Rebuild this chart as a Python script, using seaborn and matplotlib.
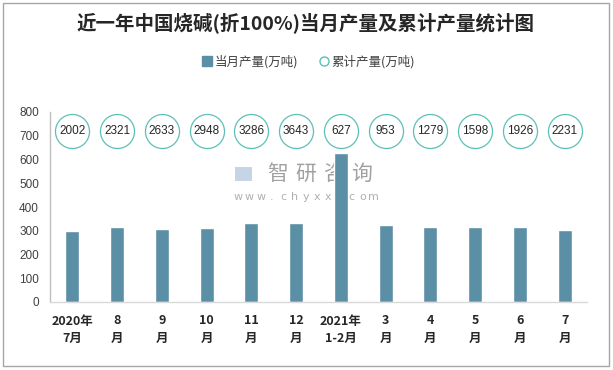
import matplotlib
matplotlib.use("Agg")
import matplotlib.pyplot as plt
import matplotlib.transforms as mtransforms
from matplotlib.patches import Rectangle
from matplotlib.lines import Line2D
import seaborn as sns
import pandas as pd

categories = ["2020年\n7月", "8\n月", "9\n月", "10\n月", "11\n月", "12\n月",
              "2021年\n1-2月", "3\n月", "4\n月", "5\n月", "6\n月", "7\n月"]
monthly = [299, 316, 308, 312, 333, 333, 627, 325, 316, 316, 316, 303]
cumulative = [2002, 2321, 2633, 2948, 3286, 3643, 627, 953, 1279, 1598, 1926, 2231]
yticks = [0, 100, 200, 300, 400, 500, 600, 700, 800]

title = "近一年中国烧碱(折100%)当月产量及累计产量统计图"
label_monthly = "当月产量(万吨)"
label_cum = "累计产量(万吨)"

sns.set_style("white")
plt.rcParams['font.family'] = ['Noto Sans CJK SC', 'DejaVu Sans']

bar_color = "#5b8fa6"
circ_color = "#5cc0b8"

fig = plt.figure(figsize=(6.13, 3.70), dpi=100)
ax = fig.add_axes([50/613, 1-302/370, (587-50)/613, (302-112)/370])

df = pd.DataFrame({"cat": categories, "val": monthly})
sns.barplot(data=df, x="cat", y="val", color=bar_color, width=0.31,
            saturation=1, ax=ax, order=categories, zorder=2)

ax.set_xlim(-0.5, len(categories)-0.5)
ax.set_ylim(0, 800)
ax.set_yticks(yticks)
ax.set_yticklabels([str(v) for v in yticks], fontsize=8.5, color="#404040",
                   family=["Liberation Sans"])
ax.set_xlabel("")
ax.set_ylabel("")
ax.set_xticks(range(len(categories)))
ax.set_xticklabels(categories, fontsize=9, fontweight="bold", color="#262626",
                   linespacing=1.45)
ax.tick_params(axis="x", which="major", length=0, pad=9)
ax.tick_params(axis="y", length=0, pad=8)
ax.set_xticks([i + 0.5 for i in range(-1, len(categories))], minor=True)
ax.tick_params(axis="x", which="minor", length=5, color="#d9d9d9", width=1)

for s in ["top", "right"]:
    ax.spines[s].set_visible(False)
ax.spines["bottom"].set_color("#d9d9d9")
ax.spines["left"].set_color("#bfbfbf")
ax.spines["left"].set_linewidth(1)
ax.spines["bottom"].set_linewidth(1)

# cumulative circles
trans = mtransforms.blended_transform_factory(ax.transData, ax.transAxes)
cy = (302 - 130.7) / 190
xs = list(range(len(categories)))
ax.scatter(xs, [cy]*len(xs), transform=trans, s=24.5**2, facecolor="white",
           edgecolor=circ_color, linewidth=0.9, zorder=5, clip_on=False)
for x, v in zip(xs, cumulative):
    ax.text(x, cy, str(v), transform=trans, ha="center", va="center",
            fontsize=8.5, color="#262626", zorder=6, family=["Liberation Sans"])

# title
fig.text(306/613, 1-23/370, title, ha="center", va="center", fontsize=14,
         fontweight="bold", color="#262626")

# legend
handles = [Line2D([], [], marker="s", linestyle="none", markersize=7,
                  markerfacecolor=bar_color, markeredgecolor=bar_color),
           Line2D([], [], marker="o", linestyle="none", markersize=6.5,
                  markerfacecolor="white", markeredgecolor=circ_color, markeredgewidth=1)]
fig.legend(handles, [label_monthly, label_cum], loc="center",
           bbox_to_anchor=(308/613, 1-62/370), ncol=2, frameon=False,
           fontsize=9, handletextpad=0.1, columnspacing=1.6, handlelength=1,
           labelcolor="#404040")

# watermark (behind bars)
wm_chars = "智研咨询"
for i, ch in enumerate(wm_chars):
    ax.text((278 + 28*i)/613, 1-174/370, ch, transform=fig.transFigure,
            ha="center", va="center", fontsize=15, color="#a0a0a0", zorder=1)
for i, ch in enumerate("www.chyxx.com"):
    ax.text((238 + 11.3*i)/613, 1-197/370, ch, transform=fig.transFigure,
            ha="center", va="center", fontsize=8, color="#b0b0b0", zorder=1,
            family=["DejaVu Sans"])
ax.add_patch(Rectangle((235/613, 1-181/370), 17/613, 14/370,
                       transform=fig.transFigure, facecolor="#c5d5e6",
                       edgecolor="none", zorder=1, clip_on=False))

# outer border
fig.patches.append(Rectangle((3/613, 4/370), 606/613, 363/370,
                             transform=fig.transFigure, fill=False,
                             edgecolor="#a6a6a6", linewidth=1))

fig.savefig("out.png", dpi=100)
